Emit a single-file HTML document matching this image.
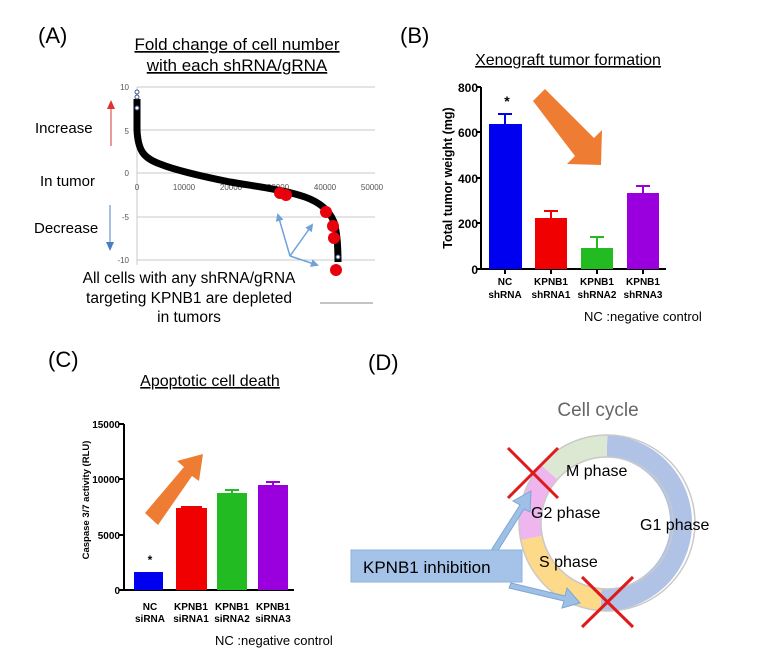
<!DOCTYPE html>
<html><head><meta charset="utf-8"><style>body{margin:0;background:#fff}svg{display:block}text{font-family:"Liberation Sans",Arial,sans-serif}</style></head><body>
<svg width="768" height="658" viewBox="0 0 768 658" xmlns="http://www.w3.org/2000/svg">
<defs>
<marker id="ab" markerWidth="8" markerHeight="8" refX="6" refY="4" orient="auto" markerUnits="userSpaceOnUse"><path d="M0,0 L8,4 L0,8 z" fill="#6fa3d6"/></marker>
</defs>
<!-- Panel A -->
<text x="38" y="43" font-size="22">(A)</text>
<text x="237" y="50" font-size="17" text-anchor="middle" text-decoration="underline">Fold change of cell number</text>
<text x="237" y="71" font-size="17" text-anchor="middle" text-decoration="underline">with each shRNA/gRNA</text>
<g stroke="#c8c8c8" stroke-width="1">
<line x1="137" y1="87" x2="375" y2="87"/><line x1="137" y1="130" x2="375" y2="130"/><line x1="137" y1="173" x2="375" y2="173"/><line x1="137" y1="217" x2="375" y2="217"/><line x1="137" y1="260" x2="375" y2="260"/>
<line x1="137" y1="87" x2="137" y2="265"/>
</g>
<g font-size="8" fill="#555" text-anchor="end"><text x="129" y="90">10</text><text x="129" y="134">5</text><text x="129" y="176">0</text><text x="129" y="220">-5</text><text x="129" y="263">-10</text></g>
<g font-size="8" fill="#555" text-anchor="middle"><text x="137" y="190">0</text><text x="184" y="190">10000</text><text x="231" y="190">20000</text><text x="278" y="190">30000</text><text x="325" y="190">40000</text><text x="372" y="190">50000</text></g>
<path d="M137,99 L137,130 C138,150 143,158 160,164 C175,170 200,176 230,182 C260,187 285,190 305,197 C322,203 330,212 334,222 C337,232 338,245 338,262" fill="none" stroke="#000" stroke-width="7"/>
<g fill="#fff" stroke="#3a5a8a" stroke-width="1"><circle cx="137" cy="92" r="2"/><circle cx="137" cy="97" r="2"/><circle cx="137" cy="108" r="2"/><circle cx="338" cy="257" r="2"/></g>
<g fill="#e8000c"><circle cx="280" cy="193" r="6"/><circle cx="286" cy="195" r="6"/><circle cx="326" cy="212" r="6"/><circle cx="333" cy="226" r="6"/><circle cx="334" cy="238" r="6"/><circle cx="336" cy="270" r="6"/></g>
<text x="35" y="133" font-size="15">Increase</text>
<text x="40" y="186" font-size="15">In tumor</text>
<text x="34" y="233" font-size="15">Decrease</text>
<line x1="111" y1="146" x2="111" y2="108" stroke="#d33" stroke-width="1"/><path d="M107,109 L111,100 L115,109 z" fill="#d33"/>
<line x1="110" y1="205" x2="110" y2="243" stroke="#4a7fc0" stroke-width="1"/><path d="M106,242 L110,251 L114,242 z" fill="#4a7fc0"/>
<g stroke="#6fa3d6" stroke-width="1.5" fill="none"><line x1="290" y1="256" x2="278" y2="215" marker-end="url(#ab)"/><line x1="290" y1="256" x2="312" y2="225" marker-end="url(#ab)"/><line x1="290" y1="256" x2="317" y2="265" marker-end="url(#ab)"/></g>
<g font-size="15.5" text-anchor="middle"><text x="189" y="283">All cells with any shRNA/gRNA</text><text x="189" y="303">targeting KPNB1 are depleted</text><text x="189" y="322">in tumors</text></g>
<line x1="320" y1="303" x2="373" y2="303" stroke="#888"/>
<!-- Panel B -->
<text x="400" y="43" font-size="22">(B)</text>
<text x="568" y="65" font-size="16" text-anchor="middle" text-decoration="underline">Xenograft tumor formation</text>
<g stroke="#000" stroke-width="2"><line x1="481" y1="87" x2="481" y2="270"/><line x1="480" y1="269" x2="666" y2="269"/>
<line x1="476" y1="87" x2="481" y2="87"/><line x1="476" y1="132" x2="481" y2="132"/><line x1="476" y1="178" x2="481" y2="178"/><line x1="476" y1="223" x2="481" y2="223"/><line x1="476" y1="269" x2="481" y2="269"/>
<line x1="505" y1="269" x2="505" y2="274"/><line x1="551" y1="269" x2="551" y2="274"/><line x1="597" y1="269" x2="597" y2="274"/><line x1="643" y1="269" x2="643" y2="274"/></g>
<g font-size="12" font-weight="bold" text-anchor="end"><text x="478" y="92">800</text><text x="478" y="137">600</text><text x="478" y="183">400</text><text x="478" y="228">200</text><text x="478" y="274">0</text></g>
<text transform="translate(452,178) rotate(-90)" font-size="12.5" font-weight="bold" text-anchor="middle">Total tumor weight (mg)</text>
<rect x="489" y="124" width="33" height="145" fill="#0000f0"/><rect x="535" y="218" width="32" height="51" fill="#f00000"/><rect x="581" y="248" width="32" height="21" fill="#22bb22"/><rect x="627" y="193" width="32" height="76" fill="#9900dd"/>
<g stroke-width="2"><path d="M505,124V114M498,114H512" stroke="#0000f0"/><path d="M551,218V211M544,211H558" stroke="#f00000"/><path d="M597,248V237M590,237H604" stroke="#22bb22"/><path d="M643,193V186M636,186H650" stroke="#9900dd"/></g>
<text x="507" y="106" font-size="14" font-weight="bold" text-anchor="middle">*</text>
<g font-size="10" font-weight="bold" text-anchor="middle"><text x="505" y="285">NC</text><text x="505" y="298">shRNA</text><text x="551" y="285">KPNB1</text><text x="551" y="298">shRNA1</text><text x="597" y="285">KPNB1</text><text x="597" y="298">shRNA2</text><text x="643" y="285">KPNB1</text><text x="643" y="298">shRNA3</text></g>
<text x="584" y="321" font-size="13">NC :negative control</text>
<polygon points="533,101 545,89 594,138 602,130 601,165 567,164 575,156" fill="#ee7d33"/>
<!-- Panel C -->
<text x="48" y="367" font-size="22">(C)</text>
<text x="210" y="386" font-size="16" text-anchor="middle" text-decoration="underline">Apoptotic cell death</text>
<g stroke="#000" stroke-width="2"><line x1="124" y1="424" x2="124" y2="591"/><line x1="123" y1="590" x2="294" y2="590"/>
<line x1="119" y1="424" x2="124" y2="424"/><line x1="119" y1="479" x2="124" y2="479"/><line x1="119" y1="535" x2="124" y2="535"/><line x1="119" y1="590" x2="124" y2="590"/></g>
<g font-size="10" font-weight="bold" text-anchor="end"><text x="120" y="428">15000</text><text x="120" y="483">10000</text><text x="120" y="539">5000</text><text x="120" y="594">0</text></g>
<text transform="translate(89,500) rotate(-90)" font-size="9.5" font-weight="bold" text-anchor="middle">Caspase 3/7 activity (RLU)</text>
<rect x="134" y="572" width="29" height="18" fill="#0000f0"/><rect x="176" y="508" width="31" height="82" fill="#f00000"/><rect x="217" y="493" width="30" height="97" fill="#22bb22"/><rect x="258" y="485" width="30" height="105" fill="#9900dd"/>
<g stroke-width="2"><path d="M181,507H202" stroke="#f00000"/><path d="M232,493V490M225,490H239" stroke="#22bb22"/><path d="M273,485V482M266,482H280" stroke="#9900dd"/></g>
<text x="150" y="564" font-size="12" font-weight="bold" text-anchor="middle">*</text>
<g font-size="10" font-weight="bold" text-anchor="middle"><text x="150" y="610">NC</text><text x="150" y="622">siRNA</text><text x="191" y="610">KPNB1</text><text x="191" y="622">siRNA1</text><text x="232" y="610">KPNB1</text><text x="232" y="622">siRNA2</text><text x="273" y="610">KPNB1</text><text x="273" y="622">siRNA3</text></g>
<text x="215" y="645" font-size="13">NC :negative control</text>
<polygon points="145,513 158,525 192,476 199,481 203,454 177,461 184,467" fill="#ee7d33"/>
<!-- Panel D -->
<text x="368" y="370" font-size="22">(D)</text>
<text x="598" y="416" font-size="19" fill="#666" text-anchor="middle">Cell cycle</text>
<g fill="none" stroke-width="22">
<path d="M607,446 A77,77 0 1 1 601,600" stroke="#b0c3e6"/>
<path d="M601,600 A77,77 0 0 1 531,538" stroke="#fdd98a"/>
<path d="M531,538 A77,77 0 0 1 549,472" stroke="#eeb5ee"/>
<path d="M549,472 A77,77 0 0 1 607,446" stroke="#dde8d2"/>
</g>
<circle cx="607" cy="523" r="88" fill="none" stroke="#c9c9c9" stroke-width="1.5"/>
<circle cx="607" cy="523" r="66" fill="none" stroke="#c9c9c9" stroke-width="1.5"/>
<g font-size="16" fill="#000"><text x="566" y="476">M phase</text><text x="531" y="518">G2 phase</text><text x="640" y="530">G1 phase</text><text x="539" y="567">S phase</text></g>
<polygon points="490,552 520,505 513,501 531,491 530,512 524,509 497,552" fill="#9fc0e6" stroke="#7ea6d4"/>
<polygon points="511,583 565,596 567,588 580,603 562,608 564,601 509,588" fill="#9fc0e6" stroke="#7ea6d4"/>
<rect x="351" y="550" width="171" height="32" fill="#a5c3e8" stroke="#8db2de"/>
<text x="363" y="573" font-size="17">KPNB1 inhibition</text>
<g stroke="#e01a1a" stroke-width="3"><line x1="508" y1="448" x2="558" y2="498"/><line x1="558" y1="448" x2="508" y2="498"/><line x1="582" y1="577" x2="633" y2="627"/><line x1="633" y1="577" x2="582" y2="627"/></g>
</svg>
</body></html>
